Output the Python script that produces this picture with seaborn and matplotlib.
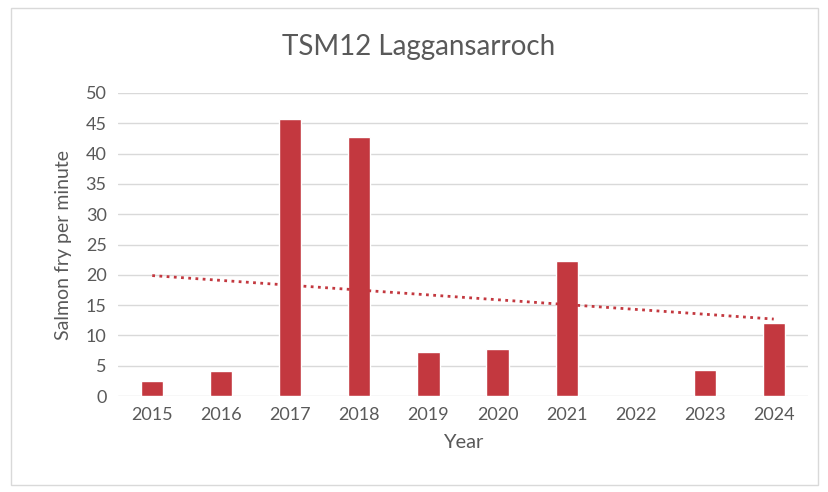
import numpy as np
import pandas as pd
import matplotlib
matplotlib.use("Agg")
import matplotlib.pyplot as plt
import seaborn as sns
from matplotlib.patches import Rectangle

years = ["2015", "2016", "2017", "2018", "2019", "2020", "2021", "2022", "2023", "2024"]
fry = [2.5, 4.2, 45.7, 42.7, 7.2, 7.7, 22.3, np.nan, 4.3, 12.0]

sns.set_theme(style="white")
plt.rcParams["font.family"] = ["Lato", "DejaVu Sans"]
text_col = "#595959"
bar_col = "#C3383F"

data = pd.DataFrame({"Year": years, "fry": fry})

fig = plt.figure(figsize=(8.29, 4.92), dpi=100)
ax = fig.add_axes([0.142, 0.195, 0.833, 0.616])

sns.barplot(data=data, x="Year", y="fry", color=bar_col, width=0.32,
            saturation=1, ax=ax, zorder=3)

# linear trend over the years that have data
xs = np.arange(len(years))
ok = ~np.isnan(data["fry"].values)
slope, icept = np.polyfit(xs[ok], data["fry"].values[ok], 1)
ax.plot(xs, slope * xs + icept, linestyle=(0, (1, 1.6)), color=bar_col,
        linewidth=2, zorder=4)

ax.set_ylim(0, 50)
ax.set_xlim(-0.5, 9.5)
ax.set_yticks(range(0, 51, 5))
ax.yaxis.grid(True, color="#d9d9d9", linewidth=1, zorder=0)
for s in ax.spines.values():
    s.set_visible(False)
ax.tick_params(axis="both", colors=text_col, labelsize=13, length=0, pad=8)
ax.set_xlabel("Year", color=text_col, fontsize=14.5, labelpad=8)
ax.set_ylabel("Salmon fry per minute", color=text_col, fontsize=14, labelpad=10)
fig.text(0.505, 0.905, "TSM12 Laggansarroch", color=text_col, fontsize=20,
         ha="center", va="center")

fig.patches.append(Rectangle((0.013, 0.015), 0.974, 0.968, transform=fig.transFigure,
                             fill=False, edgecolor="#d9d9d9", linewidth=1))

fig.savefig("out.png", dpi=100)
